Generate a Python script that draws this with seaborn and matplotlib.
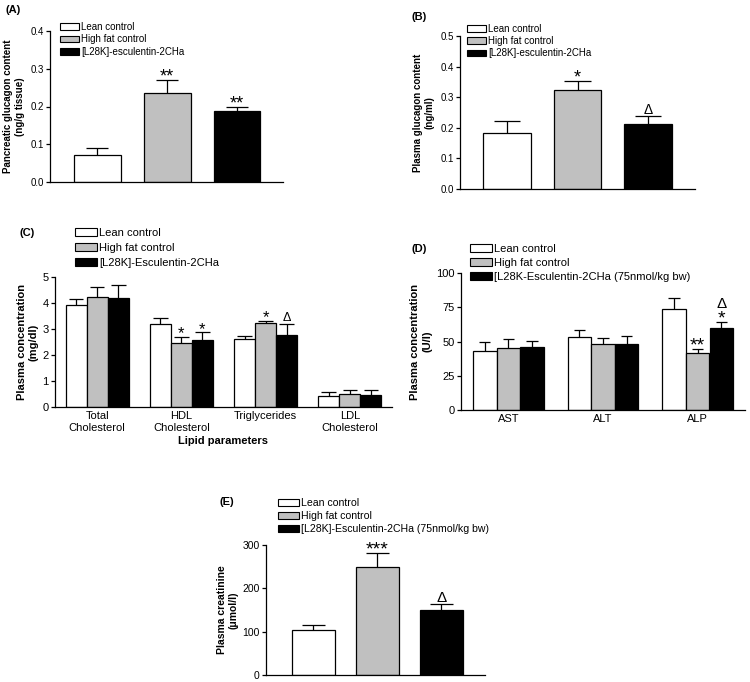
import matplotlib
matplotlib.use("Agg")
import matplotlib.pyplot as plt
import pandas as pd
import seaborn as sns
from matplotlib.patches import Patch

# groups and colours
groups = ["Lean control", "High fat control", "[L28K]-esculentin-2CHa"]
colors = ["white", "#c0c0c0", "black"]

# (A) pancreatic glucagon content
a_mean = [0.071, 0.236, 0.188]
a_err = [0.019, 0.034, 0.010]
a_marks = ["", "**", "**"]

# (B) plasma glucagon content
b_mean = [0.183, 0.325, 0.212]
b_err = [0.040, 0.027, 0.025]
b_marks = ["", "*", "Δ"]

# (C) lipid parameters
c_params = ["Total\nCholesterol", "HDL\nCholesterol", "Triglycerides", "LDL\nCholesterol"]
c_lean = [3.93, 3.21, 2.60, 0.41]
c_hf = [4.23, 2.45, 3.25, 0.51]
c_drug = [4.19, 2.58, 2.76, 0.48]
c_lean_err = [0.23, 0.20, 0.13, 0.16]
c_hf_err = [0.39, 0.24, 0.05, 0.13]
c_drug_err = [0.50, 0.29, 0.45, 0.18]
c_marks = [["", "", "", ""], ["", "*", "*", ""], ["", "*", "Δ", ""]]

# (D) liver enzymes
d_params = ["AST", "ALT", "ALP"]
d_lean = [43.2, 53.4, 73.8]
d_hf = [45.4, 48.3, 41.7]
d_drug = [45.9, 48.3, 60.2]
d_lean_err = [6.6, 4.9, 8.0]
d_hf_err = [6.1, 4.4, 2.7]
d_drug_err = [4.3, 5.6, 4.1]
d_marks = [["", "", ""], ["", "", "**"], ["", "", "*"]]
d_marks2 = [["", "", ""], ["", "", ""], ["", "", "Δ"]]

# (E) plasma creatinine
e_mean = [104.6, 250.0, 149.5]
e_err = [11.5, 32.0, 13.5]
e_marks = ["", "***", "Δ"]

plt.rcParams["font.family"] = ["Liberation Sans", "DejaVu Sans"]

fig = plt.figure(figsize=(7.5, 6.82), dpi=100)
W, H = 750.0, 682.0


def add_ax(x0, y_bottom, w, h):
    return fig.add_axes([x0 / W, 1 - y_bottom / H, w / W, h / H])


def style_axis(ax, fs):
    sns.despine(ax=ax)
    ax.spines["left"].set_linewidth(0.9)
    ax.spines["bottom"].set_linewidth(0.9)
    ax.tick_params(axis="y", length=3, width=0.9, labelsize=fs, pad=1.5)
    ax.tick_params(axis="x", length=0, labelsize=fs, pad=3)
    ax.set_xlabel("")


def put_mark(ax, xc, ytop, mark, fs, lift=0.0):
    # stars sit high in the glyph box, so pull them down onto the cap
    if mark == "Δ":
        ax.annotate(mark, (xc, ytop), xytext=(0, 1.5 + lift), textcoords="offset points",
                    ha="center", va="baseline", fontsize=fs - 3)
    else:
        ax.annotate(mark, (xc, ytop), xytext=(0, -0.08 * fs + lift), textcoords="offset points",
                    ha="center", va="baseline", fontsize=fs)


def draw_errors(ax, means, errs, capfrac, marks=None, fs=13, marks2=None, lift2=0.0):
    patches = []
    for cont in ax.containers:
        patches.extend(list(cont.patches))
    patches.sort(key=lambda p: p.get_x())
    for i, p in enumerate(patches):
        m, e = means[i], errs[i]
        xc = p.get_x() + p.get_width() / 2
        cw = p.get_width() * capfrac
        ax.vlines(xc, m, m + e, color="black", lw=0.9, zorder=1)
        ax.hlines(m + e, xc - cw / 2, xc + cw / 2, color="black", lw=0.9, zorder=1)
        if marks and marks[i]:
            put_mark(ax, xc, m + e, marks[i], fs)
        if marks2 and marks2[i]:
            put_mark(ax, xc, m + e, marks2[i], fs, lift=lift2)


def add_legend(ax, labels, x, y, fs, spacing):
    handles = [Patch(facecolor=c, edgecolor="black", linewidth=0.8) for c in colors]
    ax.legend(handles, labels, loc="upper left", bbox_to_anchor=(x / W, 1 - y / H),
              bbox_transform=fig.transFigure, frameon=False, fontsize=fs,
              borderpad=0, borderaxespad=0, handlelength=2.0, handleheight=0.7,
              handletextpad=0.2, labelspacing=spacing)


def single_panel(ax, means, left, right, width):
    df = pd.DataFrame({"group": groups, "value": means})
    sns.barplot(data=df, x="group", y="value", hue="group", order=groups,
                hue_order=groups, palette=colors, edgecolor="black", linewidth=0.9,
                width=width, errorbar=None, legend=False, ax=ax)
    ax.set_xlim(-left, 2 + right)
    ax.set_xticks([])


def grouped_panel(ax, params, lean, hf, drug, labels):
    df = pd.DataFrame({
        "param": params * 3,
        "group": [labels[0]] * len(params) + [labels[1]] * len(params) + [labels[2]] * len(params),
        "value": lean + hf + drug,
    })
    sns.barplot(data=df, x="param", y="value", hue="group", order=params,
                hue_order=labels, palette=colors, edgecolor="black", linewidth=0.9,
                width=0.75, errorbar=None, legend=False, ax=ax)
    ax.set_xlim(-0.5, len(params) - 0.5)


def interleave(a, b, c):
    out = []
    for i in range(len(a)):
        out += [a[i], b[i], c[i]]
    return out


# ---- (A)
axA = add_ax(50, 182, 233, 151)
single_panel(axA, a_mean, 0.68, 0.66, 0.67)
axA.set_ylim(0, 0.4)
axA.set_yticks([0, 0.1, 0.2, 0.3, 0.4])
axA.set_yticklabels(["0.0", "0.1", "0.2", "0.3", "0.4"])
style_axis(axA, 7)
axA.set_ylabel("Pancreatic glucagon content\n(ng/g tissue)", fontsize=7, fontweight="bold", labelpad=4)
draw_errors(axA, a_mean, a_err, 0.47, a_marks, fs=13)
add_legend(axA, groups, 60, 22, 7, 0.25)
fig.text(5 / W, 1 - 10 / H, "(A)", fontsize=8, fontweight="bold", va="center")

# ---- (B)
axB = add_ax(460, 189, 235, 153)
single_panel(axB, b_mean, 0.67, 0.67, 0.68)
axB.set_ylim(0, 0.5)
axB.set_yticks([0, 0.1, 0.2, 0.3, 0.4, 0.5])
axB.set_yticklabels(["0.0", "0.1", "0.2", "0.3", "0.4", "0.5"])
style_axis(axB, 7)
axB.set_ylabel("Plasma glucagon content\n(ng/ml)", fontsize=7, fontweight="bold", labelpad=4)
draw_errors(axB, b_mean, b_err, 0.55, b_marks, fs=13)
add_legend(axB, ["Lean control", "High fat control", "[L28K]-esculentin-2CHa"], 467, 23.5, 7, 0.25)
fig.text(412 / W, 1 - 17 / H, "(B)", fontsize=8, fontweight="bold", va="center")

# ---- (C)
c_labels = ["Lean control", "High fat control", "[L28K]-Esculentin-2CHa"]
axC = add_ax(55, 407, 337, 130)
grouped_panel(axC, c_params, c_lean, c_hf, c_drug, c_labels)
axC.set_ylim(0, 5)
axC.set_yticks([0, 1, 2, 3, 4, 5])
style_axis(axC, 8)
axC.set_ylabel("Plasma concentration\n(mg/dl)", fontsize=8, fontweight="bold", labelpad=3)
axC.set_xlabel("Lipid parameters", fontsize=8, fontweight="bold", labelpad=2)
draw_errors(axC, interleave(c_lean, c_hf, c_drug),
            interleave(c_lean_err, c_hf_err, c_drug_err), 0.7,
            interleave(*c_marks), fs=12)
add_legend(axC, c_labels, 75, 228, 8, 0.45)
fig.text(20 / W, 1 - 233 / H, "(C)", fontsize=8, fontweight="bold", va="center")

# ---- (D)
d_labels = ["Lean control", "High fat control", "[L28K-Esculentin-2CHa (75nmol/kg bw)"]
axD = add_ax(461, 410, 284, 137)
grouped_panel(axD, d_params, d_lean, d_hf, d_drug, d_labels)
axD.set_ylim(0, 100)
axD.set_yticks([0, 25, 50, 75, 100])
style_axis(axD, 8)
axD.set_ylabel("Plasma concentration\n(U/l)", fontsize=8, fontweight="bold", labelpad=3)
draw_errors(axD, interleave(d_lean, d_hf, d_drug),
            interleave(d_lean_err, d_hf_err, d_drug_err), 0.47,
            interleave(*d_marks), fs=14,
            marks2=interleave(*d_marks2), lift2=8.5)
add_legend(axD, d_labels, 470, 244, 8, 0.35)
fig.text(411 / W, 1 - 249 / H, "(D)", fontsize=8, fontweight="bold", va="center")

# ---- (E)
e_labels = ["Lean control", "High fat control", "[L28K]-Esculentin-2CHa (75nmol/kg bw)"]
axE = add_ax(266, 675, 219, 130)
single_panel(axE, e_mean, 0.74, 0.68, 0.68)
axE.set_ylim(0, 300)
axE.set_yticks([0, 100, 200, 300])
style_axis(axE, 7.5)
axE.set_ylabel("Plasma creatinine\n(μmol/l)", fontsize=7.5, fontweight="bold", labelpad=3)
draw_errors(axE, e_mean, e_err, 0.53, e_marks, fs=14)
add_legend(axE, e_labels, 278, 498, 7.6, 0.3)
fig.text(219 / W, 1 - 502 / H, "(E)", fontsize=8, fontweight="bold", va="center")

fig.savefig("out.png", dpi=100)
